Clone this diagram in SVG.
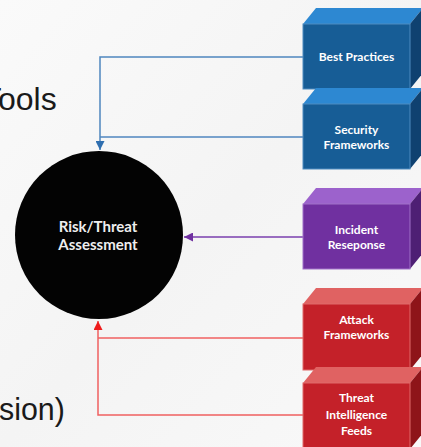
<svg xmlns="http://www.w3.org/2000/svg" width="421" height="447" viewBox="0 0 421 447">
<defs>
<linearGradient id="bg" x1="0" y1="0" x2="1" y2="1">
<stop offset="0" stop-color="#fafafa"/>
<stop offset="0.5" stop-color="#f4f4f4"/>
<stop offset="1" stop-color="#f9f9f9"/>
</linearGradient>
<marker id="ab" viewBox="0 0 10 10" refX="10" refY="5" markerWidth="9" markerHeight="9" markerUnits="userSpaceOnUse" orient="auto"><path d="M0,0 L10,5 L0,10 Z" fill="#2f6fb0"/></marker>
<marker id="ap" viewBox="0 0 10 10" refX="10" refY="5" markerWidth="9" markerHeight="9" markerUnits="userSpaceOnUse" orient="auto"><path d="M0,0 L10,5 L0,10 Z" fill="#7030a0"/></marker>
<marker id="ar" viewBox="0 0 10 10" refX="10" refY="5" markerWidth="9" markerHeight="9" markerUnits="userSpaceOnUse" orient="auto"><path d="M0,0 L10,5 L0,10 Z" fill="#ee1c1c"/></marker>
</defs>
<style>
.big{font-family:"Liberation Sans",Arial,sans-serif;font-size:32px;fill:#1a1a1a}
.lbl{font-family:Lato,"Liberation Sans",sans-serif;font-weight:700;font-size:12px;fill:#ffffff;text-anchor:middle}
.clbl{font-family:Lato,"Liberation Sans",sans-serif;font-weight:700;font-size:15px;fill:#eeeeee;text-anchor:middle}
.bf{fill:#175d96;stroke:#4f8cc0;stroke-width:1}
.bt{fill:#2d88d2}
.bs{fill:#0f4170}
.pf{fill:#7030a0;stroke:#a070c8;stroke-width:1}
.pt{fill:#9c62cc}
.ps{fill:#4e1f74}
.rf{fill:#c42129;stroke:#e06a6a;stroke-width:1}
.rt{fill:#e06262}
.rs{fill:#8e1419}
.cb{fill:none;stroke:#4f86bf;stroke-width:1.5}
.cp{fill:none;stroke:#7a3fae;stroke-width:1.5}
.cr{fill:none;stroke:#f06060;stroke-width:1.5}
</style>
<rect width="421" height="447" fill="url(#bg)"/>
<g id="side-text">
<text class="big" x="-18" y="110">Tools</text>
<text class="big" transform="translate(-1,420) scale(0.95,1)">sion)</text>
</g>
<g id="connectors">
<polyline class="cb" points="303,57 100,57 100,150" marker-end="url(#ab)"/>
<polyline class="cb" points="303,137 100,137"/>
<line class="cp" x1="303" y1="237" x2="184" y2="237" marker-end="url(#ap)"/>
<polyline class="cr" points="303,415 98,415 98,321" marker-end="url(#ar)"/>
<polyline class="cr" points="303,338 98,338"/>
</g>
<g id="risk-assessment">
<circle cx="99" cy="235" r="84" fill="#030303"/>
<text class="clbl" x="98" y="232">Risk/Threat</text>
<text class="clbl" x="98" y="250">Assessment</text>
</g>
<g id="best-practices">
<polygon class="bt" points="303,24 316,8 423,8 410,24"/>
<polygon class="bs" points="410,24 423,8 423,73 410,89"/>
<rect class="bf" x="303" y="24" width="107" height="65"/>
<text class="lbl" x="356.5" y="61">Best Practices</text>
</g>
<g id="security-frameworks">
<polygon class="bt" points="303,104 316,88 423,88 410,104"/>
<polygon class="bs" points="410,104 423,88 423,153 410,169"/>
<rect class="bf" x="303" y="104" width="107" height="65"/>
<text class="lbl" x="356.5" y="134">Security</text>
<text class="lbl" x="356.5" y="149">Frameworks</text>
</g>
<g id="incident-response">
<polygon class="pt" points="303,204 316,188 423,188 410,204"/>
<polygon class="ps" points="410,204 423,188 423,253 410,269"/>
<rect class="pf" x="303" y="204" width="107" height="65"/>
<text class="lbl" x="356.5" y="234">Incident</text>
<text class="lbl" x="356.5" y="249">Reseponse</text>
</g>
<g id="attack-frameworks">
<polygon class="rt" points="303,304 316,288 423,288 410,304"/>
<polygon class="rs" points="410,304 423,288 423,354 410,370"/>
<rect class="rf" x="303" y="304" width="107" height="66"/>
<text class="lbl" x="356.5" y="324">Attack</text>
<text class="lbl" x="356.5" y="339">Frameworks</text>
</g>
<g id="threat-intelligence-feeds">
<polygon class="rt" points="303,383 316,367 423,367 410,383"/>
<polygon class="rs" points="410,383 423,367 423,433 410,449"/>
<rect class="rf" x="303" y="383" width="107" height="66"/>
<text class="lbl" x="356.5" y="402">Threat</text>
<text class="lbl" x="356.5" y="419">Intelligence</text>
<text class="lbl" x="356.5" y="435">Feeds</text>
</g>
</svg>
